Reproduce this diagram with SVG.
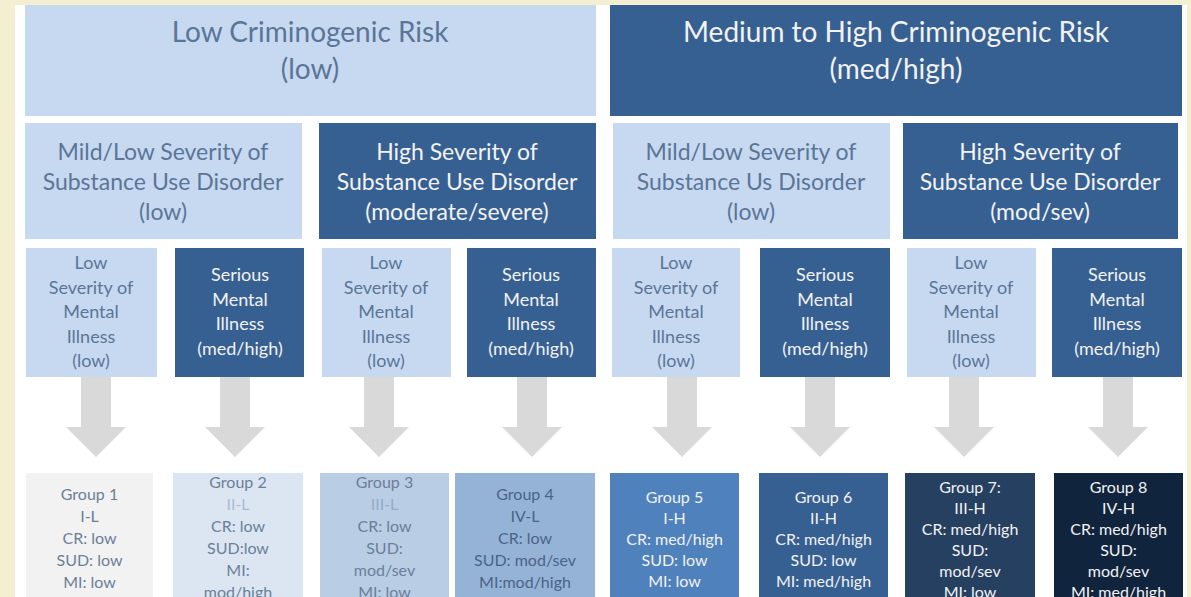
<svg xmlns="http://www.w3.org/2000/svg" width="1191" height="597" viewBox="0 0 1191 597">
<style>
text{font-family:Lato,"Open Sans","Liberation Sans",sans-serif;text-anchor:middle}
.lt{fill:#c6d9f1}
.dk{fill:#376092}
.tl{fill:#5b7597}
.tw{fill:#f2f2f2}
.h1{font-size:28px}
.h2{font-size:23px}
.h3{font-size:18px}
.g{font-size:16px}
.arr{fill:#d9d9d9}
</style>
<rect x="0" y="0" width="1191" height="597" fill="#f5efd2"/>
<rect x="15" y="5" width="1172" height="592" fill="#ffffff"/>

<g id="risk-low">
<rect class="lt" x="25" y="5" width="571" height="111"/>
<text class="h1 tl" x="310" y="42">Low Criminogenic Risk</text>
<text class="h1 tl" x="310" y="79">(low)</text>
</g>
<g id="risk-high">
<rect class="dk" x="610" y="5" width="572" height="111"/>
<text class="h1 tw" x="896" y="42">Medium to High Criminogenic Risk</text>
<text class="h1 tw" x="896" y="79">(med/high)</text>
</g>

<g id="sud-low-1">
<rect class="lt" x="25" y="123" width="277" height="116"/>
<text class="h2 tl" x="163" y="160">Mild/Low Severity of</text>
<text class="h2 tl" x="163" y="190">Substance Use Disorder</text>
<text class="h2 tl" x="163" y="220">(low)</text>
</g>
<g id="sud-high-1">
<rect class="dk" x="319" y="123" width="277" height="116"/>
<text class="h2 tw" x="457" y="160">High Severity of</text>
<text class="h2 tw" x="457" y="190">Substance Use Disorder</text>
<text class="h2 tw" x="457" y="220">(moderate/severe)</text>
</g>
<g id="sud-low-2">
<rect class="lt" x="613" y="123" width="277" height="116"/>
<text class="h2 tl" x="751" y="160">Mild/Low Severity of</text>
<text class="h2 tl" x="751" y="190">Substance Us Disorder</text>
<text class="h2 tl" x="751" y="220">(low)</text>
</g>
<g id="sud-high-2">
<rect class="dk" x="903" y="123" width="275" height="116"/>
<text class="h2 tw" x="1040" y="160">High Severity of</text>
<text class="h2 tw" x="1040" y="190">Substance Use Disorder</text>
<text class="h2 tw" x="1040" y="220">(mod/sev)</text>
</g>

<g id="mi-1">
<rect class="lt" x="26" y="248" width="131" height="129"/>
<text class="h3 tl" x="91"><tspan x="91" y="269">Low</tspan><tspan x="91" y="294">Severity of</tspan><tspan x="91" y="318">Mental</tspan><tspan x="91" y="343">Illness</tspan><tspan x="91" y="367">(low)</tspan></text>
</g>
<g id="mi-2">
<rect class="dk" x="175" y="248" width="129" height="129"/>
<text class="h3 tw" x="240"><tspan x="240" y="281">Serious</tspan><tspan x="240" y="306">Mental</tspan><tspan x="240" y="330">Illness</tspan><tspan x="240" y="355">(med/high)</tspan></text>
</g>
<g id="mi-3">
<rect class="lt" x="322" y="248" width="129" height="129"/>
<text class="h3 tl" x="386"><tspan x="386" y="269">Low</tspan><tspan x="386" y="294">Severity of</tspan><tspan x="386" y="318">Mental</tspan><tspan x="386" y="343">Illness</tspan><tspan x="386" y="367">(low)</tspan></text>
</g>
<g id="mi-4">
<rect class="dk" x="467" y="248" width="129" height="129"/>
<text class="h3 tw" x="531"><tspan x="531" y="281">Serious</tspan><tspan x="531" y="306">Mental</tspan><tspan x="531" y="330">Illness</tspan><tspan x="531" y="355">(med/high)</tspan></text>
</g>
<g id="mi-5">
<rect class="lt" x="612" y="248" width="128" height="129"/>
<text class="h3 tl" x="676"><tspan x="676" y="269">Low</tspan><tspan x="676" y="294">Severity of</tspan><tspan x="676" y="318">Mental</tspan><tspan x="676" y="343">Illness</tspan><tspan x="676" y="367">(low)</tspan></text>
</g>
<g id="mi-6">
<rect class="dk" x="760" y="248" width="130" height="129"/>
<text class="h3 tw" x="825"><tspan x="825" y="281">Serious</tspan><tspan x="825" y="306">Mental</tspan><tspan x="825" y="330">Illness</tspan><tspan x="825" y="355">(med/high)</tspan></text>
</g>
<g id="mi-7">
<rect class="lt" x="907" y="248" width="129" height="129"/>
<text class="h3 tl" x="971"><tspan x="971" y="269">Low</tspan><tspan x="971" y="294">Severity of</tspan><tspan x="971" y="318">Mental</tspan><tspan x="971" y="343">Illness</tspan><tspan x="971" y="367">(low)</tspan></text>
</g>
<g id="mi-8">
<rect class="dk" x="1052" y="248" width="130" height="129"/>
<text class="h3 tw" x="1117"><tspan x="1117" y="281">Serious</tspan><tspan x="1117" y="306">Mental</tspan><tspan x="1117" y="330">Illness</tspan><tspan x="1117" y="355">(med/high)</tspan></text>
</g>

<g id="connectors">
<path class="arr" d="M81,377 h30 v50 h15 l-30,30 l-30,-30 h15 z"/>
<path class="arr" d="M220,377 h30 v50 h15 l-30,30 l-30,-30 h15 z"/>
<path class="arr" d="M364,377 h30 v50 h15 l-30,30 l-30,-30 h15 z"/>
<path class="arr" d="M517,377 h30 v50 h15 l-30,30 l-30,-30 h15 z"/>
<path class="arr" d="M667,377 h30 v50 h15 l-30,30 l-30,-30 h15 z"/>
<path class="arr" d="M805,377 h30 v50 h15 l-30,30 l-30,-30 h15 z"/>
<path class="arr" d="M949,377 h30 v50 h15 l-30,30 l-30,-30 h15 z"/>
<path class="arr" d="M1103,377 h30 v50 h15 l-30,30 l-30,-30 h15 z"/>
</g>

<g id="group-1">
<rect x="26" y="473" width="127" height="124" fill="#f2f2f2"/>
<text class="g" fill="#6b7f99"><tspan x="89.5" y="500">Group 1</tspan><tspan x="89.5" y="522">I-L</tspan><tspan x="89.5" y="544">CR: low</tspan><tspan x="89.5" y="566">SUD: low</tspan><tspan x="89.5" y="588">MI: low</tspan></text>
</g>
<g id="group-2">
<rect x="173" y="473" width="130" height="124" fill="#dce6f2"/>
<text class="g" fill="#6b7f99"><tspan x="238" y="488">Group 2</tspan><tspan x="238" y="510" fill="#a9bbd3">II-L</tspan><tspan x="238" y="532">CR: low</tspan><tspan x="238" y="554">SUD:low</tspan><tspan x="238" y="576">MI:</tspan><tspan x="238" y="598">mod/high</tspan></text>
</g>
<g id="group-3">
<rect x="320" y="473" width="129" height="124" fill="#b9cde5"/>
<text class="g" fill="#6b7f99"><tspan x="384.5" y="488">Group 3</tspan><tspan x="384.5" y="510" fill="#95acc9">III-L</tspan><tspan x="384.5" y="532">CR: low</tspan><tspan x="384.5" y="554">SUD:</tspan><tspan x="384.5" y="576">mod/sev</tspan><tspan x="384.5" y="598">MI: low</tspan></text>
</g>
<g id="group-4">
<rect x="455" y="473" width="140" height="124" fill="#95b3d7"/>
<text class="g" fill="#4a6486"><tspan x="525" y="500">Group 4</tspan><tspan x="525" y="522">IV-L</tspan><tspan x="525" y="544">CR: low</tspan><tspan x="525" y="566">SUD: mod/sev</tspan><tspan x="525" y="588">MI:mod/high</tspan></text>
</g>
<g id="group-5">
<rect x="610" y="473" width="129" height="124" fill="#4f81bd"/>
<text class="g tw"><tspan x="674.5" y="503">Group 5</tspan><tspan x="674.5" y="524">I-H</tspan><tspan x="674.5" y="545">CR: med/high</tspan><tspan x="674.5" y="566">SUD: low</tspan><tspan x="674.5" y="587">MI: low</tspan></text>
</g>
<g id="group-6">
<rect x="759" y="473" width="129" height="124" fill="#376092"/>
<text class="g tw"><tspan x="823.5" y="503">Group 6</tspan><tspan x="823.5" y="524">II-H</tspan><tspan x="823.5" y="545">CR: med/high</tspan><tspan x="823.5" y="566">SUD: low</tspan><tspan x="823.5" y="587">MI: med/high</tspan></text>
</g>
<g id="group-7">
<rect x="905" y="473" width="130" height="124" fill="#254061"/>
<text class="g tw"><tspan x="970" y="493">Group 7:</tspan><tspan x="970" y="514">III-H</tspan><tspan x="970" y="535">CR: med/high</tspan><tspan x="970" y="556">SUD:</tspan><tspan x="970" y="577">mod/sev</tspan><tspan x="970" y="598">MI: low</tspan></text>
</g>
<g id="group-8">
<rect x="1054" y="473" width="129" height="124" fill="#10243e"/>
<text class="g tw"><tspan x="1118.5" y="493">Group 8</tspan><tspan x="1118.5" y="514">IV-H</tspan><tspan x="1118.5" y="535">CR: med/high</tspan><tspan x="1118.5" y="556">SUD:</tspan><tspan x="1118.5" y="577">mod/sev</tspan><tspan x="1118.5" y="598">MI: med/high</tspan></text>
</g>
</svg>
